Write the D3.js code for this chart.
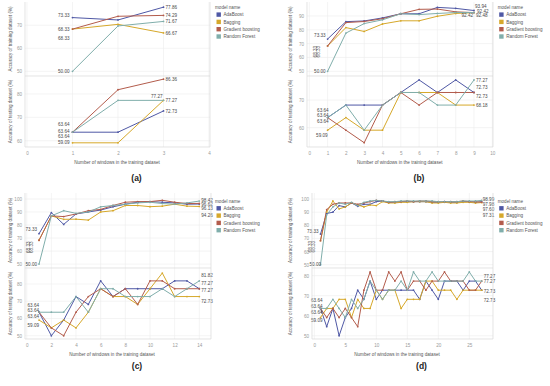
<!DOCTYPE html>
<html>
<head>
<meta charset="utf-8" />
<script src="https://d3js.org/d3.v7.min.js"></script>
<style>
  body { margin: 0; background: #fff; font-family: "Liberation Sans", Arial, sans-serif; }
  svg { display: block; }
  .ax text { fill: #9a9a9a; font-size: 4.6px; }
  .ax path { display: none; }
  .grid { stroke: #ededed; stroke-width: 0.6px; }
  .frame { stroke: #d8d8d8; stroke-width: 0.7px; }
  .lbl { fill: #4a4a4a; font-size: 4.6px; }
  .title { fill: #555; font-size: 4.6px; }
</style>
</head>
<body>
<script>
var models = ["AdaBoost", "Bagging", "Gradient boosting", "Random Forest"];
var colors = ["#4f58a5", "#d6a82a", "#b35c4c", "#80aeab"];

// (a) 3 windows
var aWindows = [1, 2, 3];
var aTrain = [
  [73.33, 72.3, 77.86],
  [68.33, 70.4, 66.67],
  [68.33, 73.9, 74.29],
  [50.00, 69.7, 71.67]
];
var aTest = [
  [63.64, 63.64, 72.73],
  [59.09, 59.09, 77.27],
  [63.64, 81.82, 86.36],
  [63.64, 77.27, 77.27]
];

// (b) 9 windows
var bWindows = [1, 2, 3, 4, 5, 6, 7, 8, 9];
var bTrain = [
  [73.33, 85.9, 86.4, 88.6, 91.6, 91.6, 96.2, 95.5, 93.94],
  [68.33, 81.6, 78.8, 84.2, 86.5, 86.5, 89.8, 91.8, 92.42],
  [68.33, 85.2, 86.0, 88.0, 91.6, 94.8, 95.0, 93.0, 92.42],
  [50.00, 77.6, 84.5, 87.2, 91.6, 91.0, 91.8, 92.5, 92.48]
];
var bTest = [
  [63.64, 68.18, 68.18, 68.18, 72.73, 77.27, 72.73, 77.27, 72.73],
  [59.09, 63.64, 59.09, 59.09, 72.73, 72.73, 72.73, 68.18, 68.18],
  [63.64, 59.09, 54.55, 68.18, 72.73, 68.18, 72.73, 72.73, 72.73],
  [63.64, 68.18, 59.09, 68.18, 72.73, 72.73, 68.18, 68.18, 77.27]
];

// (c) 14 windows
var cWindows = [1, 2, 3, 4, 5, 6, 7, 8, 9, 10, 11, 12, 13, 14];
var cTrain = [
  [73.33, 89.5, 80.5, 88.5, 90.0, 91.5, 94.0, 96.0, 97.5, 98.0, 97.5, 97.0, 96.0, 96.13],
  [68.33, 87.0, 84.4, 84.5, 83.8, 90.0, 91.0, 95.0, 95.0, 94.1, 94.5, 96.0, 94.5, 94.26],
  [68.33, 87.0, 86.5, 88.5, 91.0, 92.0, 95.0, 97.5, 98.0, 98.0, 99.0, 97.5, 96.5, 96.62],
  [50.00, 87.0, 91.0, 89.0, 90.0, 94.0, 95.0, 96.0, 97.0, 97.5, 96.5, 96.0, 97.0, 98.42]
];
var cTest = [
  [63.64, 50.00, 59.09, 72.73, 68.18, 81.82, 72.73, 77.27, 77.27, 77.27, 77.27, 81.82, 81.82, 77.27],
  [59.09, 54.55, 59.09, 54.55, 63.64, 77.27, 72.73, 72.73, 68.18, 77.27, 86.36, 72.73, 72.73, 72.73],
  [63.64, 54.55, 50.00, 63.64, 72.73, 77.27, 72.73, 77.27, 68.18, 81.82, 81.82, 77.27, 77.27, 77.27],
  [63.64, 63.64, 63.64, 72.73, 63.64, 77.27, 77.27, 72.73, 72.73, 72.73, 77.27, 72.73, 77.27, 81.82]
];

// (d) 27 windows
var dWindows = [1, 2, 3, 4, 5, 6, 7, 8, 9, 10, 11, 12, 13, 14, 15, 16, 17, 18, 19, 20, 21, 22, 23, 24, 25, 26, 27];
var dTrain = [
  [73.33, 89.0, 90.0, 95.0, 94.0, 97.0, 94.5, 96.0, 96.0, 98.0, 98.5, 97.5, 97.5, 98.0, 98.0, 98.0, 98.0, 98.0, 97.5, 97.5, 98.0, 97.5, 97.5, 98.0, 98.0, 97.5, 97.98],
  [68.33, 90.0, 98.5, 92.5, 94.0, 97.0, 95.5, 94.0, 95.5, 95.0, 98.0, 97.0, 97.0, 97.5, 97.5, 98.0, 98.0, 98.0, 97.0, 97.0, 97.5, 97.0, 97.0, 97.5, 97.5, 97.0, 97.31],
  [68.33, 92.0, 96.0, 97.0, 97.0, 97.0, 96.0, 97.0, 98.0, 99.0, 98.5, 97.5, 98.0, 98.0, 98.5, 98.0, 98.5, 98.5, 98.0, 98.0, 98.0, 98.0, 98.0, 98.5, 98.0, 98.0, 97.60],
  [50.00, 88.0, 94.0, 97.0, 96.0, 97.5, 95.0, 97.5, 98.5, 99.0, 98.5, 98.0, 98.0, 98.5, 98.5, 98.5, 98.5, 98.5, 98.5, 98.0, 98.0, 98.0, 98.0, 98.5, 98.5, 98.5, 98.99]
];
var dTest = [
  [63.64, 54.55, 63.64, 50.00, 59.09, 63.64, 72.73, 68.18, 77.27, 68.18, 72.73, 72.73, 72.73, 72.73, 72.73, 72.73, 68.18, 77.27, 72.73, 68.18, 77.27, 77.27, 77.27, 72.73, 77.27, 77.27, 72.73],
  [59.09, 63.64, 63.64, 68.18, 68.18, 59.09, 68.18, 63.64, 63.64, 72.73, 68.18, 72.73, 72.73, 63.64, 68.18, 68.18, 68.18, 77.27, 77.27, 72.73, 72.73, 72.73, 68.18, 72.73, 72.73, 72.73, 72.73],
  [63.64, 59.09, 63.64, 59.09, 63.64, 59.09, 54.55, 72.73, 81.82, 72.73, 72.73, 81.82, 77.27, 81.82, 72.73, 77.27, 77.27, 72.73, 77.27, 77.27, 81.82, 77.27, 77.27, 77.27, 72.73, 72.73, 77.27],
  [63.64, 63.64, 68.18, 63.64, 59.09, 68.18, 63.64, 68.18, 77.27, 72.73, 68.18, 72.73, 72.73, 77.27, 72.73, 81.82, 77.27, 77.27, 81.82, 77.27, 77.27, 77.27, 77.27, 77.27, 81.82, 77.27, 77.27]
];

var xTitle = "Number of windows in the training dataset";
var trainTitle = "Accuracy of training dataset (%)";
var testTitle = "Accuracy of testing dataset (%)";

// label nudges per model: [dx, dy, anchor, rotated]
var panels = [
  { tag: "(a)", windows: aWindows, train: aTrain, test: aTest,
    xDomain: [0, 4], xRange: [27, 209], xTicks: [0, 1, 2, 3, 4],
    left: 25, right: 210, top: 2, mid: 76, bottom: 147,
    trainDomain: [47.96, 80.1], testDomain: [57.3, 87.7],
    trainTicks: [50, 60, 70], testTicks: [60, 70, 80],
    yTitleX: 10, legendX: 215, legendY: 7.3, tagY: 178,
    s1: [[-3, -2.3, "end"], [-3, 0.5, "end"], [-3, 8.8, "end"], [-3, 0, "end"]],
    e1: [[2, 0, "start"], [2, 0, "start"], [2, 0, "start"], [2, 0, "start"]],
    s2: [[-3, -1, "end"], [-3, 0, "end"], [-3, -8, "end"], [-3, 4, "end"]],
    e2: [[2, 0, "start"], [-1, -4, "end"], [2, 0, "start"], [2, 0, "start"]] },
  { tag: "(b)", windows: bWindows, train: bTrain, test: bTest,
    xDomain: [0, 10], xRange: [309.3, 492.3], xTicks: d3.range(0, 11),
    left: 307, right: 493, top: 2, mid: 76, bottom: 147,
    trainDomain: [46.6, 100.1], testDomain: [53, 78.7],
    trainTicks: [50, 60, 70, 80, 90], testTicks: [60, 70],
    yTitleX: 290, legendX: 497.7, legendY: 7.3, tagY: 178,
    s1: [[-2, -3.3, "end"], [-12.6, 5.7, "middle", 1], [-9.6, 5.7, "middle", 1], [-2, 0, "end"]],
    e1: [[1, -4, "start"], [-1, 3, "end"], [3, -1.5, "start"], [2, 3, "start"]],
    s2: [[1, -2.6, "end"], [0, 5, "end"], [1, -7.6, "end"], [1, 3.4, "end"]],
    e2: [[2, -5, "start"], [2, 0, "start"], [2, 4.3, "start"], [2, 0, "start"]] },
  { tag: "(c)", windows: cWindows, train: cTrain, test: cTest,
    xDomain: [0, 14], xRange: [26.7, 199.3], xTicks: [0, 2, 4, 6, 8, 10, 12, 14],
    left: 25, right: 211, top: 193, mid: 268, bottom: 339,
    trainDomain: [47, 104.6], testDomain: [48.1, 89.3],
    trainTicks: [50, 60, 70, 80, 90, 100], testTicks: [50, 60, 70, 80],
    yTitleX: 10, legendX: 215, legendY: 201, tagY: 366,
    s1: [[-2, -4, "end"], [-10.7, 7, "middle", 1], [-7.7, 7, "middle", 1], [-2, 0, "end"]],
    e1: [[2, 4.3, "start"], [2, 8.5, "start"], [2, 1, "start"], [2, -1, "start"]],
    s2: [[0, -1.4, "end"], [0, 5, "end"], [0, -7, "end"], [0, 4, "end"]],
    e2: [[2, -5.4, "start"], [2, 4.5, "start"], [2, 2, "start"], [2, -6, "start"]] },
  { tag: "(d)", windows: dWindows, train: dTrain, test: dTest,
    xDomain: [0, 27], xRange: [314.3, 481.7], xTicks: [0, 5, 10, 15, 20, 25],
    left: 312, right: 493, top: 193, mid: 268, bottom: 339,
    trainDomain: [47.5, 104.6], testDomain: [48.4, 83.8],
    trainTicks: [50, 60, 70, 80, 90, 100], testTicks: [50, 60, 70, 80],
    yTitleX: 290, legendX: 497.7, legendY: 201, tagY: 366,
    s1: [[-2, -3, "end"], [-10, 6, "middle", 1], [-7, 6, "middle", 1], [0.5, 0, "end"]],
    e1: [[1, 3, "start"], [1, 12.5, "start"], [1, 7.6, "start"], [1, -1.3, "start"]],
    s2: [[2, -2, "end"], [2, 3.3, "end"], [2, -7.6, "end"], [2, 3.7, "end"]],
    e2: [[2, 0.7, "start"], [2, 9.7, "start"], [2, -5, "start"], [2, 0.5, "start"]] }
];

var svg = d3.select("body").append("svg")
  .attr("width", 550)
  .attr("height", 386);

var fmt = d3.format(".2f");

panels.forEach(function(p) {
  var g = svg.append("g");
  var x = d3.scaleLinear().domain(p.xDomain).range(p.xRange);

  var subplots = [
    { data: p.train, domain: p.trainDomain, ticks: p.trainTicks, y0: p.mid, y1: p.top, title: trainTitle, s: p.s1, e: p.e1 },
    { data: p.test, domain: p.testDomain, ticks: p.testTicks, y0: p.bottom, y1: p.mid, title: testTitle, s: p.s2, e: p.e2 }
  ];

  // vertical grid
  g.selectAll()
    .data(p.xTicks.filter(function(t) { return x(t) > p.left + 1; }))
    .enter().append("line")
    .attr("class", "grid")
    .attr("x1", function(d) { return x(d); })
    .attr("x2", function(d) { return x(d); })
    .attr("y1", p.top)
    .attr("y2", p.bottom);

  subplots.forEach(function(sp) {
    var y = d3.scaleLinear().domain(sp.domain).range([sp.y0, sp.y1]);

    g.selectAll()
      .data(sp.ticks)
      .enter().append("line")
      .attr("class", "grid")
      .attr("x1", p.left)
      .attr("x2", p.right)
      .attr("y1", function(d) { return y(d); })
      .attr("y2", function(d) { return y(d); });

    g.append("g")
      .attr("class", "ax")
      .attr("transform", `translate(${p.left} 0)`)
      .call(d3.axisLeft(y).tickValues(sp.ticks).tickSize(0).tickPadding(3).tickFormat(d3.format("d")));

    g.append("text")
      .attr("class", "title")
      .attr("transform", `translate(${p.yTitleX} ${(sp.y0 + sp.y1) / 2}) rotate(-90)`)
      .attr("text-anchor", "middle")
      .attr("dy", "0.35em")
      .text(sp.title);

    var line = d3.line()
      .x(function(d, i) { return x(p.windows[i]); })
      .y(function(d) { return y(d); });

    sp.data.forEach(function(vals, m) {
      g.append("path")
        .attr("d", line(vals))
        .attr("fill", "none")
        .attr("stroke", colors[m])
        .attr("stroke-width", 1)
        .attr("stroke-linejoin", "round");
    });

    sp.data.forEach(function(vals, m) {
      g.selectAll()
        .data(vals)
        .enter().append("circle")
        .attr("cx", function(d, i) { return x(p.windows[i]); })
        .attr("cy", function(d) { return y(d); })
        .attr("r", 0.9)
        .attr("fill", colors[m]);
    });

    // first and last value labels
    sp.data.forEach(function(vals, m) {
      [[0, sp.s[m]], [vals.length - 1, sp.e[m]]].forEach(function(pair) {
        var i = pair[0], n = pair[1];
        var px = x(p.windows[i]) + n[0];
        var py = y(vals[i]) + n[1];
        g.append("text")
          .attr("class", "lbl")
          .attr("transform", n[3] ? `translate(${px} ${py}) rotate(-90)` : `translate(${px} ${py})`)
          .attr("text-anchor", n[2])
          .attr("dy", "0.35em")
          .text(fmt(vals[i]));
      });
    });
  });

  // frame
  [[p.left, p.mid, p.right, p.mid], [p.left, p.bottom, p.right, p.bottom],
   [p.right, p.top, p.right, p.bottom], [p.left, p.top, p.left, p.bottom]].forEach(function(s) {
    g.append("line").attr("class", "frame")
      .attr("x1", s[0]).attr("y1", s[1]).attr("x2", s[2]).attr("y2", s[3]);
  });

  g.append("g")
    .attr("class", "ax")
    .attr("transform", `translate(0 ${p.bottom})`)
    .call(d3.axisBottom(x).tickValues(p.xTicks).tickSize(0).tickPadding(4.5).tickFormat(d3.format("d")));

  g.append("text")
    .attr("class", "title")
    .attr("x", (p.xRange[0] + p.xRange[1]) / 2 - 1)
    .attr("y", p.bottom + 15)
    .attr("text-anchor", "middle")
    .attr("dy", "0.35em")
    .text(xTitle);

  // legend
  var lg = g.append("g").attr("transform", `translate(${p.legendX} ${p.legendY})`);
  lg.append("text")
    .attr("class", "title")
    .attr("dy", "0.35em")
    .text("model name");
  models.forEach(function(name, i) {
    lg.append("rect")
      .attr("x", 1.5)
      .attr("y", 7.3 * (i + 1) - 2.2)
      .attr("width", 4.4)
      .attr("height", 4.4)
      .attr("fill", colors[i]);
    lg.append("text")
      .attr("class", "title")
      .attr("x", 8.5)
      .attr("y", 7.3 * (i + 1))
      .attr("dy", "0.35em")
      .text(name);
  });

  g.append("text")
    .attr("x", (p.left + p.right) / 2 + 19)
    .attr("y", p.tagY)
    .attr("text-anchor", "middle")
    .attr("dy", "0.35em")
    .style("font-size", "8.5px")
    .style("font-weight", "bold")
    .style("fill", "#222")
    .text(p.tag);
});
</script>
</body>
</html>
